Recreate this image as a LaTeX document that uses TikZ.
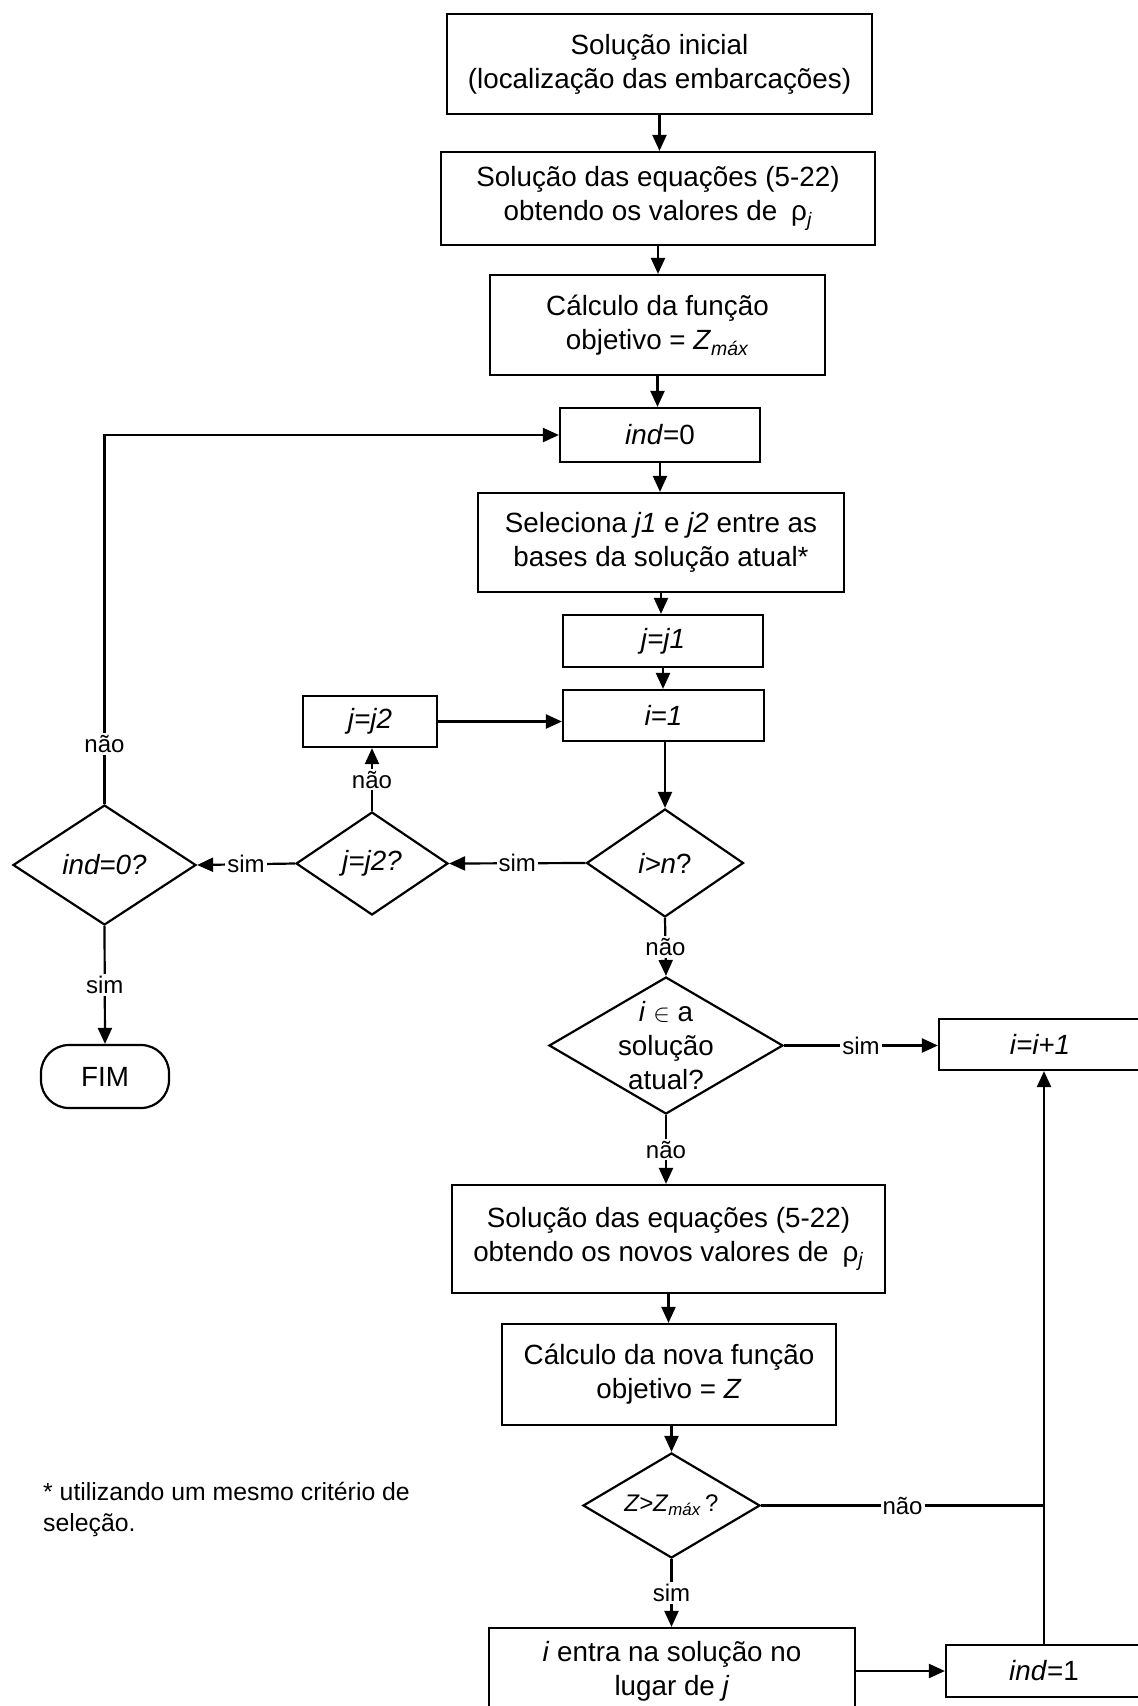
\documentclass[tikz,border=0pt]{standalone}
\usepackage{fontspec}
\setmainfont{Liberation Sans}
\usetikzlibrary{arrows.meta,shapes.geometric}
\newcommand{\zmx}{\textit{Z}\textsubscript{\textit{máx}}}
\newcommand{\rhoj}{ρ\textsubscript{\textit{j}}}
\begin{document}
\begin{tikzpicture}[x=1pt,y=-1pt,
  every node/.style={font=\fontsize{27.8}{34}\selectfont},
  box/.style={draw, line width=2.2pt, rectangle, align=center, inner sep=0pt},
  dia/.style={draw, line width=2.2pt, diamond, inner sep=0pt},
  lbl/.style={fill=white, inner sep=2pt, font=\fontsize{24}{28}\selectfont},
  plain/.style={line width=2.2pt},
  arr/.style={line width=2.2pt, -{Triangle[length=16pt,width=14pt]}},
]
\useasboundingbox (0,0) rectangle (1138,1706);
\clip (0,0) rectangle (1138,1706);

\node[box, minimum width=425pt, minimum height=100pt] (b1) at (659.5,64) {Solução inicial\\(localização das embarcações)};
\node[box, minimum width=434pt, minimum height=93pt] (b2) at (658,198.5) {Solução das equações (5-22)\\obtendo os valores de\enspace\rhoj};
\node[box, minimum width=335pt, minimum height=100pt] (b3) at (657.5,325) {Cálculo da função\\objetivo = \zmx};
\node[box, minimum width=200pt, minimum height=54pt] (ind0) at (660,435) {\textit{ind}=0};
\node[box, minimum width=366pt, minimum height=99pt] (sel) at (661,542.5) {Seleciona \textit{j1} e \textit{j2} entre as\\bases da solução atual*};
\node[box, minimum width=200pt, minimum height=52pt] (jj1) at (663,641) {\textit{j=j1}};
\node[box, minimum width=201pt, minimum height=51pt] (i1) at (663.5,715.5) {\textit{i=1}};
\node[box, minimum width=134pt, minimum height=51pt] (jj2) at (370,721.5) {\textit{j=j2}};

\node[dia, minimum width=157pt, minimum height=108pt] (gtn) at (665,863) {};
\node (gtnt) at (gtn) {\textit{i>n}?};
\node[dia, minimum width=152pt, minimum height=103pt] (jj2q) at (372,863.5) {};
\node (jj2qt) at (jj2q) {\textit{j=j2?}};
\node[dia, minimum width=183pt, minimum height=120pt] (ind0q) at (104.5,865) {};
\node (ind0qt) at (ind0q) {\textit{ind=0?}};
\node[box, rounded corners=28pt, minimum width=128pt, minimum height=63pt] (fim) at (105,1076.5) {FIM};

\node[dia, minimum width=234pt, minimum height=137pt] (iin) at (666,1045.5) {};
\node[align=center] (iint) at (iin) {\textit{i} $\in$ a\\solução\\atual?};
\node[box, minimum width=202pt, minimum height=51pt] (ii1) at (1040,1044.5) {\textit{i=i+1}};

\node[box, minimum width=433pt, minimum height=108pt] (sol2) at (668.5,1239) {Solução das equações (5-22)\\obtendo os novos valores de\enspace\rhoj};
\node[box, minimum width=334pt, minimum height=101pt] (calc2) at (669,1374.5) {Cálculo da nova função\\objetivo = \textit{Z}};
\node[dia, minimum width=177pt, minimum height=105pt] (zq) at (671.5,1505.5) {};
\node[font=\fontsize{24}{28}\selectfont] (zqt) at (zq) {\textit{Z>Z}\textsubscript{\textit{máx}}\,?};
\node[box, minimum width=366pt, minimum height=86pt] (entra) at (672,1671) {\textit{i} entra na solução no\\lugar de \textit{j}};
\node[box, minimum width=196pt, minimum height=52pt] (ind1) at (1044,1671) {\textit{ind}=1};

\node[anchor=north west, align=left, inner sep=0pt, font=\fontsize{24.8}{31}\selectfont] (note) at (43,1482) {* utilizando um mesmo critério de\\seleção.};

% connectors
\draw[arr] (b1.south) -- (b1.south |- b2.north);
\draw[arr] (b2.south) -- (b2.south |- b3.north);
\draw[arr] (b3.south) -- (b3.south |- ind0.north);
\draw[arr] (ind0.south) -- (ind0.south |- sel.north);
\draw[arr] (sel.south) -- (sel.south |- jj1.north);
\draw[arr] (jj1.south) -- (jj1.south |- i1.north);
\draw[arr] (gtn.north |- i1.south) -- (gtn.north);
\draw[arr] (gtn.west) -- node[lbl]{sim} (jj2q.east);
\draw[arr] (jj2q.west) -- node[lbl]{sim} (ind0q.east);
\draw[arr] (jj2q.north) -- node[lbl]{não} (jj2q.north |- jj2.south);
\draw[arr] (jj2.east) -- (jj2.east -| i1.west);
\coordinate (lc) at (ind0q.north |- ind0.west);
\draw[arr] (ind0q.north) -- node[lbl,pos=0.163]{não} (lc) -- (ind0.west);
\draw[arr] (ind0q.south) -- node[lbl]{sim} (fim.north);
\draw[arr] (gtn.south) -- node[lbl]{não} (iin.north);
\draw[arr] (iin.east) -- node[lbl]{sim} (iin.east -| ii1.west);
\draw[arr] (iin.south) -- node[lbl]{não} (iin.south |- sol2.north);
\draw[arr] (sol2.south) -- (sol2.south |- calc2.north);
\draw[arr] (zq.north |- calc2.south) -- (zq.north);
\draw[arr] (zq.south) -- node[lbl]{sim} (zq.south |- entra.north);
\draw[arr] (entra.east |- ind1.west) -- (ind1.west);
\draw[arr] (ind1.north) -- (ind1.north |- ii1.south);
\coordinate (jn) at (ind1.north |- zq.east);
\draw[plain] (zq.east) -- node[lbl]{não} (jn);
\end{tikzpicture}
\end{document}
